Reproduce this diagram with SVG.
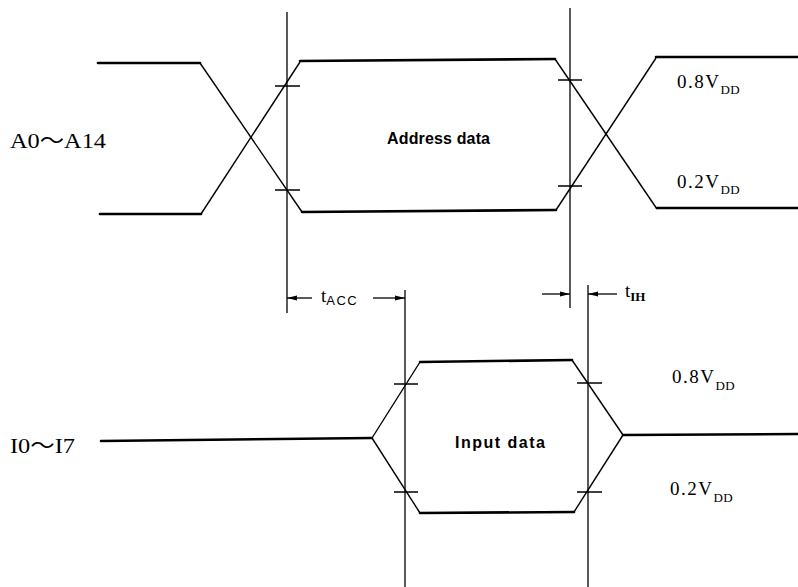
<svg xmlns="http://www.w3.org/2000/svg" width="798" height="587" viewBox="0 0 798 587">
<style>
.h{stroke:#000;stroke-width:2.6;fill:none;stroke-linecap:round}
.d{stroke:#000;stroke-width:1.4;fill:none}
.v{stroke:#000;stroke-width:1.3;fill:none}
.t{stroke:#000;stroke-width:1.3;fill:none}
.serif{font-family:"Liberation Serif","Times New Roman","Noto Sans CJK JP",serif;fill:#000}
.sans{font-family:"Liberation Sans",Arial,sans-serif;fill:#000}
.lvl{font-size:19px;letter-spacing:1.5px}
.sub{font-size:13px;letter-spacing:0.5px}
</style>
<defs>
<marker id="ar" viewBox="0 0 10 6" refX="10" refY="3" markerWidth="10" markerHeight="6" markerUnits="userSpaceOnUse" orient="auto">
<path d="M0,0.5 L10,3 L0,5.5 Z" fill="#000"/>
</marker>
</defs>
<rect width="798" height="587" fill="#fff"/>
<g id="address-waveform">
<path class="h" d="M98,63 L200,63"/>
<path class="h" d="M100,214 L201,214"/>
<path class="d" d="M200,63 L302,212"/>
<path class="d" d="M201,214 L300,62"/>
<path class="h" d="M300,61 L555,59"/>
<path class="h" d="M302,212 L556,210"/>
<path class="d" d="M555,59 L657,209"/>
<path class="d" d="M556,210 L656,58"/>
<path class="h" d="M656,57 L798,57"/>
<path class="h" d="M657,208 L798,208"/>
<text class="serif" x="10" y="148" font-size="22" textLength="96" lengthAdjust="spacingAndGlyphs">A0～A14</text>
<text class="sans" x="387" y="144" font-size="16" font-weight="bold" textLength="103" lengthAdjust="spacing">Address data</text>
<text class="serif lvl" x="677" y="88">0.8V<tspan class="sub" dy="6">DD</tspan></text>
<text class="serif lvl" x="677" y="188">0.2V<tspan class="sub" dy="6">DD</tspan></text>
</g>
<g id="input-waveform">
<path class="h" d="M101,441 L372,438"/>
<path class="d" d="M372,438 L420,362"/>
<path class="d" d="M372,438 L420,513"/>
<path class="h" d="M420,362 L572,360"/>
<path class="h" d="M420,513 L574,512"/>
<path class="d" d="M572,360 L623,435"/>
<path class="d" d="M574,512 L623,435"/>
<path class="h" d="M623,435 L798,434"/>
<text class="serif" x="10" y="453" font-size="22" textLength="65" lengthAdjust="spacingAndGlyphs">I0～I7</text>
<text class="sans" x="455" y="448" font-size="16" font-weight="bold" textLength="90" lengthAdjust="spacing">Input data</text>
<text class="serif lvl" x="672" y="383">0.8V<tspan class="sub" dy="7">DD</tspan></text>
<text class="serif lvl" x="670" y="495">0.2V<tspan class="sub" dy="7">DD</tspan></text>
</g>
<g id="connectors">
<path class="v" d="M287,12 L287,313"/>
<path class="v" d="M570,8 L570,308"/>
<path class="v" d="M405,290 L405,587"/>
<path class="v" d="M588,285 L588,587"/>
<path class="t" d="M275,86 L300,86 M275,190 L300,190"/>
<path class="t" d="M558,80 L582,80 M558,186 L582,186"/>
<path class="t" d="M394,384 L418,384 M394,492 L418,492"/>
<path class="t" d="M577,383 L602,383 M577,492 L602,492"/>
<path class="v" d="M312,298 L287,298" marker-end="url(#ar)"/>
<path class="v" d="M373,298 L405,298" marker-end="url(#ar)"/>
<path class="v" d="M542,294 L570,294" marker-end="url(#ar)"/>
<path class="v" d="M617,294 L588,294" marker-end="url(#ar)"/>
<text class="serif" x="321" y="302" font-size="19">t<tspan class="sans" font-size="13" dy="3" letter-spacing="1.5">ACC</tspan></text>
<text class="serif" x="625" y="297" font-size="19">t<tspan font-size="13" font-weight="bold" dy="4">IH</tspan></text>
</g>
</svg>
